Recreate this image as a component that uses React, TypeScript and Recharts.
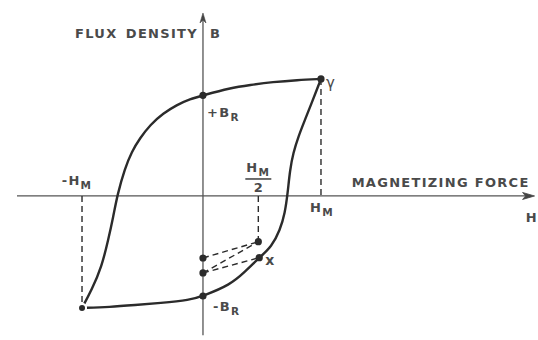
import React from "react";
import {
  ComposedChart,
  Line,
  Scatter,
  XAxis,
  YAxis,
  ReferenceLine,
  ReferenceDot,
} from "recharts";

// H in units of H_M, B in units of the tip flux density
const UPPER_H = [-1.025, -0.943, -0.858, -0.803, -0.76, -0.726, -0.661, -0.604, -0.534, -0.449, -0.336, -0.223, -0.11, 0, 0.229, 0.398, 0.593, 0.797, 1.0];
const UPPER_B = [-0.957, -0.803, -0.604, -0.376, -0.177, 0.009, 0.237, 0.379, 0.493, 0.607, 0.707, 0.778, 0.829, 0.86, 0.923, 0.949, 0.974, 0.991, 1.0];
const LOWER_H = [-1.025, -0.788, -0.576, -0.364, -0.11, 0, 0.229, 0.356, 0.477, 0.582, 0.653, 0.695, 0.718, 0.737, 0.765, 0.808, 0.864, 0.921, 0.964, 1.0];
const LOWER_B = [-0.957, -0.949, -0.932, -0.915, -0.889, -0.855, -0.761, -0.649, -0.527, -0.433, -0.291, -0.145, 0.026, 0.222, 0.368, 0.507, 0.65, 0.795, 0.906, 1.0];

const DOT_H = [1.0, 0, 0, 0, 0, 0.469, 0.477];
const DOT_B = [1.0, 0.86, -0.855, -0.53, -0.658, -0.391, -0.527];

const H_MAX = 1.0;
const H_MIN = -1.025;
const H_HALF = 0.469;
const B_TIP = 1.0;
const B_LOW = -0.957;
const B_R = 0.86;
const B_R_NEG = -0.855;
const X_PT = { h: 0.477, b: -0.527 };
const RIGHT_DOT_B = -0.391;
const LEFT_DOTS_B = [-0.53, -0.658];

const AXIS_H = [-1.576, 2.81];
const AXIS_B = [-1.19, 1.564];

const upper = UPPER_H.map((h, i) => ({ h, b: UPPER_B[i] }));
const lower = LOWER_H.map((h, i) => ({ h, b: LOWER_B[i] }));
const dots = DOT_H.map((h, i) => ({ h, b: DOT_B[i] }));

const INK = "#2b2b2b";
const TEXT = "#4a4a4a";
const font = { fontFamily: "DejaVu Sans", fontSize: 13, fontWeight: 700, letterSpacing: 1.3, fill: TEXT };

const label =
  (content: React.ReactNode, dx: number, dy: number, anchor: "start" | "middle" | "end" = "start", extra = {}) =>
  (p: any) =>
    (
      <text x={p.cx + dx} y={p.cy + dy} textAnchor={anchor} {...font} {...extra}>
        {content}
      </text>
    );

const sub = (main: string, s: string) => (
  <>
    {main}
    <tspan fontSize={10.5} dy={4}>
      {s}
    </tspan>
  </>
);

// axis-end decorations: arrowhead plus the axis name, anchored at the arrow tip
const hEnd = (p: any) => {
  const x = Number(p.cx);
  const y = Number(p.cy);
  return (
    <g>
      <polygon points={`${x},${y} ${x - 12},${y - 3.5} ${x - 9},${y} ${x - 12},${y + 3.5}`} fill="#444" stroke="#444" strokeWidth={0.8} />
      <text x={x - 5} y={y - 9} textAnchor="end" {...font}>
        MAGNETIZING  FORCE
      </text>
      <text x={x + 2} y={y + 26} textAnchor="end" {...font} letterSpacing={0}>
        H
      </text>
    </g>
  );
};

const bEnd = (p: any) => {
  const x = Number(p.cx);
  const y = Number(p.cy);
  return (
    <g>
      <polygon points={`${x},${y} ${x - 3},${y + 10} ${x},${y + 7} ${x + 3},${y + 10}`} fill="#444" stroke="#444" strokeWidth={0.6} />
      <text x={x - 128} y={y + 25} {...font}>
        FLUX
      </text>
      <text x={x - 5} y={y + 25} textAnchor="end" {...font}>
        DENSITY
      </text>
      <text x={x + 7} y={y + 25} {...font}>
        B
      </text>
    </g>
  );
};

export default function App() {
  const dash = { stroke: INK, strokeWidth: 1.4, strokeDasharray: "6 4", ifOverflow: "visible" as const };
  return (
    <div style={{ position: "absolute", left: 0, top: 0, width: 538, height: 340, background: "#fff" }}>
      <ComposedChart width={538} height={340} margin={{ top: 0, right: 0, bottom: 0, left: 0 }}>
        <XAxis type="number" dataKey="h" domain={[-1.72, 2.839]} hide />
        <YAxis type="number" dataKey="b" domain={[-1.231, 1.675]} hide />

        {/* axes */}
        <ReferenceLine segment={[{ x: AXIS_H[0], y: 0 }, { x: AXIS_H[1] - 0.05, y: 0 }]} stroke="#555" strokeWidth={1.3} ifOverflow="visible" />
        <ReferenceLine segment={[{ x: 0, y: AXIS_B[0] }, { x: 0, y: AXIS_B[1] - 0.05 }]} stroke="#555" strokeWidth={1.3} ifOverflow="visible" />

        {/* dashed construction lines */}
        <ReferenceLine segment={[{ x: H_MAX, y: B_TIP }, { x: H_MAX, y: 0 }]} {...dash} />
        <ReferenceLine segment={[{ x: H_MIN, y: 0 }, { x: H_MIN, y: B_LOW }]} {...dash} />
        <ReferenceLine segment={[{ x: H_HALF, y: 0 }, { x: H_HALF, y: RIGHT_DOT_B }]} {...dash} />
        <ReferenceLine segment={[{ x: 0, y: LEFT_DOTS_B[0] }, { x: H_HALF, y: RIGHT_DOT_B }]} {...dash} />
        <ReferenceLine segment={[{ x: 0, y: LEFT_DOTS_B[1] }, { x: H_HALF, y: RIGHT_DOT_B }]} {...dash} />
        <ReferenceLine segment={[{ x: 0, y: LEFT_DOTS_B[1] }, { x: X_PT.h, y: X_PT.b }]} {...dash} />

        {/* hysteresis loop */}
        <Line data={upper} dataKey="b" type="basis" stroke={INK} strokeWidth={2.4} dot={false} isAnimationActive={false} />
        <Line data={lower} dataKey="b" type="basis" stroke={INK} strokeWidth={2.4} dot={false} isAnimationActive={false} />
        <Scatter
          data={dots}
          dataKey="b"
          isAnimationActive={false}
          shape={(p: any) => <circle cx={p.cx} cy={p.cy} r={3.6} fill={INK} />}
        />

        {/* labels */}
        <ReferenceDot x={AXIS_H[1]} y={0} ifOverflow="visible" shape={hEnd} />
        <ReferenceDot x={0} y={AXIS_B[1]} ifOverflow="visible" shape={bEnd} />
        <ReferenceDot x={H_MAX} y={B_TIP} ifOverflow="visible" shape={label("γ", 5, 9, "start", { fontSize: 15, fontWeight: 400, letterSpacing: 0 })} />
        <ReferenceDot x={0} y={B_R} ifOverflow="visible" shape={label(sub("+B", "R"), 4, 22)} />
        <ReferenceDot x={H_MIN} y={0} ifOverflow="visible" shape={label(sub("-H", "M"), -5, -11, "middle")} />
        <ReferenceDot x={H_MAX} y={0} ifOverflow="visible" shape={label(sub("H", "M"), -11, 16)} />
        <ReferenceDot x={H_HALF} y={0} ifOverflow="visible" shape={label(sub("H", "M"), 0, -24, "middle")} />
        <ReferenceDot
          x={H_HALF}
          y={0}
          ifOverflow="visible"
          shape={(p: any) => <line x1={p.cx - 13} x2={p.cx + 13} y1={p.cy - 17} y2={p.cy - 17} stroke={TEXT} strokeWidth={1.6} />}
        />
        <ReferenceDot x={H_HALF} y={0} ifOverflow="visible" shape={label("2", 0, -4, "middle", { letterSpacing: 0 })} />
        <ReferenceDot x={X_PT.h} y={X_PT.b} ifOverflow="visible" shape={label("x", 6, 7, "start", { fontSize: 14, letterSpacing: 0 })} />
        <ReferenceDot x={0} y={B_R_NEG} ifOverflow="visible" shape={label(sub("-B", "R"), 10, 15)} />
      </ComposedChart>
    </div>
  );
}
